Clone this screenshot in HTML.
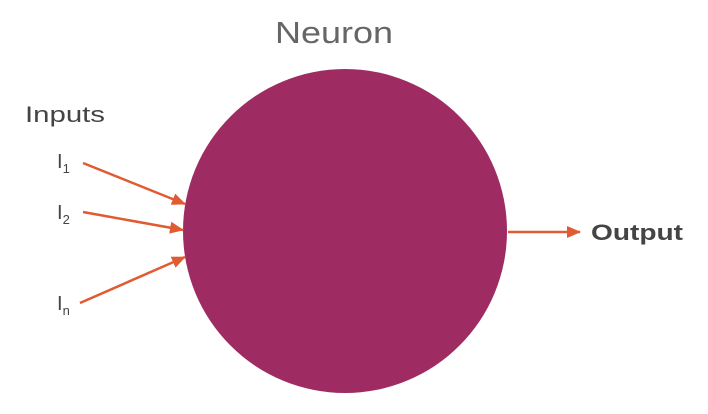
<!DOCTYPE html>
<html><head><style>
html,body{margin:0;padding:0;background:#fff;}
svg{display:block;font-family:"Liberation Sans",sans-serif;}
</style></head><body>
<svg width="708" height="414" viewBox="0 0 708 414">
<defs>
<marker id="ah" markerWidth="14" markerHeight="12" refX="13" refY="6" orient="auto" markerUnits="userSpaceOnUse">
<path d="M0,0 L14,6 L0,12 Z" fill="#e05a32"/>
</marker>
</defs>
<text x="275" y="43" textLength="118" lengthAdjust="spacingAndGlyphs" font-size="31" fill="#666">Neuron</text>
<circle cx="345" cy="231" r="162" fill="#9e2c62"/>
<text x="25" y="122" textLength="80" lengthAdjust="spacingAndGlyphs" font-size="22" fill="#444">Inputs</text>
<g fill="#444" font-size="20">
<text x="57" y="168">I<tspan font-size="13" dy="5">1</tspan></text>
<text x="57" y="219">I<tspan font-size="13" dy="5">2</tspan></text>
<text x="57" y="310">I<tspan font-size="13" dy="5">n</tspan></text>
</g>
<g stroke="#e05a32" stroke-width="2.5" marker-end="url(#ah)">
<line x1="83" y1="163" x2="185" y2="204"/>
<line x1="83" y1="212" x2="183" y2="230"/>
<line x1="80" y1="303" x2="185" y2="257"/>
<line x1="508" y1="232" x2="580" y2="232"/>
</g>
<text x="591" y="240" textLength="92" lengthAdjust="spacingAndGlyphs" font-size="22" font-weight="bold" fill="#444">Output</text>
</svg>
</body></html>
